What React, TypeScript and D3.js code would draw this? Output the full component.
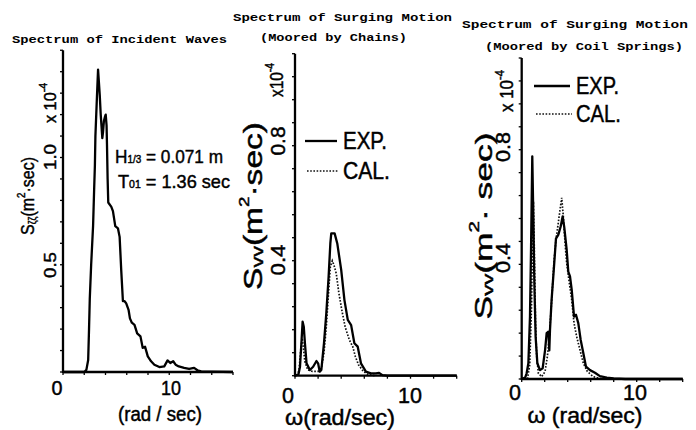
import React from "react";
import * as d3 from "d3";

// ---- data: spectra read as [omega (rad/sec), S (x10^-4)] ----
const incidentExp: [number, number][] = [
  [0, 0], [2.0, 0], [2.2, 0.01], [2.37, 0.056], [2.45, 0.2], [2.52, 0.34], [2.65, 0.5],
  [2.83, 0.68], [2.93, 0.85], [3.0, 0.96], [3.05, 1.1], [3.2, 1.29], [3.3, 1.41],
  [3.38, 1.35], [3.46, 1.29], [3.55, 1.2], [3.62, 1.15], [3.7, 1.09], [3.77, 1.12],
  [3.85, 1.17], [3.95, 1.19], [4.02, 1.2], [4.1, 1.15], [4.14, 1.06], [4.2, 0.9],
  [4.26, 0.79], [4.55, 0.77], [4.7, 0.75], [4.92, 0.68], [5.17, 0.67], [5.33, 0.63],
  [5.48, 0.475], [5.64, 0.33], [5.8, 0.33], [5.95, 0.32], [6.17, 0.29], [6.3, 0.25],
  [6.48, 0.23], [6.73, 0.22], [6.98, 0.18], [7.29, 0.166], [7.5, 0.113], [7.72, 0.118],
  [7.98, 0.073], [8.29, 0.05], [8.6, 0.034], [9.07, 0.023], [9.53, 0.026], [9.84, 0.054],
  [10.1, 0.042], [10.37, 0.05], [10.6, 0.034], [10.9, 0.026], [11.4, 0.019], [11.87, 0.014],
  [12.34, 0.019], [12.65, 0.008], [13, 0.003], [14, 0.002], [16, 0],
];

const chainsExp: [number, number][] = [
  [0, 0], [0.3, 0.005], [0.43, 0.03], [0.57, 0.124], [0.66, 0.188], [0.76, 0.17],
  [0.86, 0.113], [1.0, 0.043], [1.29, 0.02], [1.57, 0.031], [1.86, 0.051], [2.0, 0.043],
  [2.14, 0.014], [2.28, 0.02], [2.51, 0.113], [2.71, 0.217], [2.91, 0.344], [3.06, 0.46],
  [3.14, 0.495], [3.43, 0.495], [3.66, 0.46], [4.0, 0.368], [4.28, 0.263], [4.57, 0.194],
  [4.86, 0.176], [5.14, 0.113], [5.43, 0.101], [5.71, 0.043], [6.14, 0.014], [6.57, 0.008],
  [7.0, 0.008], [7.28, 0.01], [7.57, 0.002], [8, 0], [14, 0],
];

const chainsCal: [number, number][] = [
  [0.2, 0], [0.35, 0.02], [0.5, 0.09], [0.62, 0.13], [0.72, 0.1], [0.85, 0.05], [1.1, 0.02],
  [1.5, 0.015], [2.0, 0.015], [2.3, 0.03], [2.51, 0.08], [2.71, 0.17], [2.86, 0.263],
  [3.06, 0.379], [3.23, 0.4], [3.37, 0.385], [3.57, 0.356], [3.8, 0.287], [4.05, 0.229],
  [4.34, 0.17], [4.71, 0.124], [5.0, 0.101], [5.23, 0.066], [5.51, 0.037], [5.94, 0.014],
  [6.4, 0.003], [7, 0],
];

const springsExp: [number, number][] = [
  [0, 0], [0.3, 0.005], [0.43, 0.02], [0.58, 0.055], [0.72, 0.218], [0.81, 0.45],
  [0.92, 0.777], [1.01, 0.567], [1.1, 0.335], [1.21, 0.148], [1.36, 0.055], [1.59, 0.031],
  [1.82, 0.037], [2.03, 0.1], [2.17, 0.16], [2.32, 0.165], [2.4, 0.1], [2.46, 0.171],
  [2.6, 0.276], [2.81, 0.393], [2.98, 0.49], [3.18, 0.503], [3.39, 0.532], [3.56, 0.567],
  [3.7, 0.53], [3.91, 0.451], [4.05, 0.375], [4.2, 0.358], [4.35, 0.311], [4.55, 0.218],
  [4.72, 0.224], [4.92, 0.195], [5.13, 0.136], [5.36, 0.09], [5.59, 0.043], [5.94, 0.031],
  [6.37, 0.022], [6.8, 0.01], [7.4, 0.005], [8, 0.002], [9, 0], [14, 0],
];

const springsCal: [number, number][] = [
  [0.5, 0], [0.7, 0.05], [0.85, 0.25], [0.95, 0.5], [1.02, 0.62], [1.1, 0.45], [1.2, 0.2],
  [1.3, 0.08], [1.45, 0.02], [1.74, 0.008], [2.03, 0.026], [2.23, 0.078], [2.4, 0.148],
  [2.6, 0.27], [2.81, 0.41], [2.98, 0.486], [3.18, 0.544], [3.33, 0.59], [3.48, 0.632],
  [3.62, 0.567], [3.77, 0.474], [3.91, 0.405], [4.14, 0.335], [4.35, 0.276], [4.55, 0.195],
  [4.78, 0.148], [5.07, 0.101], [5.36, 0.055], [5.71, 0.026], [6.23, 0.008], [7, 0],
];

const xTickLabels = ["0", "10"];
const yTickLabelsIncident = ["0.5", "1.0"];
const yTickLabelsSurge = ["0.4", "0.8"];
const legendLabels = ["EXP.", "CAL."];

const SANS = "'Liberation Sans', Arial, sans-serif";
const MONO = "'Liberation Mono', 'DejaVu Sans Mono', monospace";
// a hairline outline gives the lettering a slightly heavier weight
const INK = { stroke: "#000", strokeWidth: 0.45 };

type Pt = [number, number];

interface PanelProps {
  px0: number; px1: number; xMax: number; xStep: number;
  pyBase: number; pyTop: number; yMax: number; yStep: number;
  exp: Pt[]; cal?: Pt[];
}

function Frame({ px0, px1, xMax, xStep, pyBase, pyTop, yMax, yStep, exp, cal }: PanelProps) {
  const x = d3.scaleLinear().domain([0, xMax]).range([px0, px1]);
  const y = d3.scaleLinear().domain([0, yMax]).range([pyBase, pyTop]);
  const line = d3.line<Pt>().x((d) => x(d[0])).y((d) => y(d[1])).curve(d3.curveLinear);
  const xt = d3.range(0, xMax + 1e-6, xStep);
  const yt = d3.range(0, Math.round(yMax / yStep) + 1).map((i) => i * yStep);
  return (
    <g>
      {cal && (
        <path d={line(cal) || ""} fill="none" stroke="#111" strokeWidth={1.7}
          strokeDasharray="1.6 1.6" />
      )}
      <path d={line(exp) || ""} fill="none" stroke="#000" strokeWidth={2.3}
        strokeLinejoin="round" />
      <line x1={x(0)} x2={x(0)} y1={y(0) + 1} y2={y(yMax)} stroke="#000" strokeWidth={2.3} />
      <line x1={x(0)} x2={x(xMax)} y1={y(0)} y2={y(0)} stroke="#000" strokeWidth={2.3} />
      {yt.map((v, i) => (
        <line key={"y" + i} x1={x(0) - 3} x2={x(0)} y1={y(v)} y2={y(v)} stroke="#000" strokeWidth={1.3} />
      ))}
      {xt.map((v, i) => (
        <line key={"x" + i} x1={x(v)} x2={x(v)} y1={y(0)} y2={y(0) + 3} stroke="#000" strokeWidth={1.3} />
      ))}
    </g>
  );
}

function VText({ x, y, len, size, children }: any) {
  return (
    <text transform={`translate(${x},${y}) rotate(-90)`} textAnchor="middle"
      dominantBaseline="central" fontFamily={SANS} fontSize={size}
      textLength={len} lengthAdjust="spacingAndGlyphs" {...INK}>
      {children}
    </text>
  );
}

function HText({ x, y, len, size, children, anchor }: any) {
  return (
    <text x={x} y={y} textAnchor={anchor || "middle"} fontFamily={SANS} fontSize={size}
      textLength={len} lengthAdjust="spacingAndGlyphs" {...INK}>
      {children}
    </text>
  );
}

function Title({ x, y, len, children }: any) {
  return (
    <text x={x} y={y} fontFamily={MONO} fontWeight={700} fontSize={10}
      textLength={len} lengthAdjust="spacingAndGlyphs">
      {children}
    </text>
  );
}

function Legend({ x0, x1, yExp, yCal, tx, lens }: any) {
  return (
    <g>
      <line x1={x0} x2={x1} y1={yExp} y2={yExp} stroke="#000" strokeWidth={2.3} />
      <line x1={x0 + 2} x2={x1 + 2} y1={yCal} y2={yCal} stroke="#111" strokeWidth={1.7}
        strokeDasharray="1.6 1.6" />
      <HText x={tx} y={yExp + 8} len={lens[0]} size={23} anchor="start">{legendLabels[0]}</HText>
      <HText x={tx} y={yCal + 8} len={lens[1]} size={23} anchor="start">{legendLabels[1]}</HText>
    </g>
  );
}

export default function App() {
  return (
    <svg width={696} height={430} viewBox="0 0 696 430"
      style={{ position: "absolute", left: 0, top: 0, background: "#fff" }}>
      <rect width={696} height={430} fill="#fff" />

      {/* Incident waves */}
      <Title x={12} y={42.5} len={215}>Spectrum of Incident Waves</Title>
      <Frame px0={63} px1={233} xMax={16} xStep={2} pyBase={372} pyTop={50.25} yMax={1.5}
        yStep={0.1} exp={incidentExp} />
      <HText x={57} y={395} size={21} len={11}>{xTickLabels[0]}</HText>
      <HText x={171} y={395} size={21} len={20}>{xTickLabels[1]}</HText>
      <HText x={160} y={421} size={20} len={84}>(rad / sec)</HText>
      <VText x={50} y={265} size={17} len={26}>{yTickLabelsIncident[0]}</VText>
      <VText x={50} y={157} size={17} len={26}>{yTickLabelsIncident[1]}</VText>
      <VText x={50} y={103} size={17} len={40}>
        x 10<tspan fontSize={11} dy={-7}>-4</tspan>
      </VText>
      <VText x={28} y={196} size={18} len={78}>
        S<tspan fontSize={10} dy={4}>ζζ</tspan><tspan dy={-4}>(m</tspan>
        <tspan fontSize={11} dy={-7}>2</tspan><tspan dy={7}>·sec)</tspan>
      </VText>
      <text x={115} y={163} fontFamily={SANS} fontSize={19} textLength={108}
        lengthAdjust="spacingAndGlyphs" {...INK}>
        H<tspan fontSize={11}>1/3</tspan> = 0.071 m
      </text>
      <text x={118} y={188} fontFamily={SANS} fontSize={19} textLength={112}
        lengthAdjust="spacingAndGlyphs" {...INK}>
        T<tspan fontSize={11}>01</tspan> = 1.36  sec
      </text>

      {/* Surging, chains */}
      <Title x={233} y={20.5} len={219}>Spectrum of Surging Motion</Title>
      <Title x={260} y={41} len={147}>(Moored by Chains)</Title>
      <Frame px0={295} px1={456.7} xMax={14} xStep={2} pyBase={375.7} pyTop={53.7} yMax={1.12}
        yStep={0.08} exp={chainsExp} cal={chainsCal} />
      <HText x={288} y={403} size={22} len={12}>{xTickLabels[0]}</HText>
      <HText x={410} y={403} size={22} len={24}>{xTickLabels[1]}</HText>
      <HText x={340} y={425} size={22} len={110}>ω(rad/sec)</HText>
      <VText x={277} y={260} size={21} len={31}>{yTickLabelsSurge[0]}</VText>
      <VText x={277} y={141} size={21} len={29}>{yTickLabelsSurge[1]}</VText>
      <VText x={277} y={80} size={18} len={34}>
        x10<tspan fontSize={12} dy={-7}>-4</tspan>
      </VText>
      <VText x={253} y={206} size={25} len={168}>
        S<tspan fontSize={16} dy={4}>vv</tspan><tspan dy={-4}>(m</tspan>
        <tspan fontSize={14} dy={-9}>2</tspan><tspan dy={9}>·sec)</tspan>
      </VText>
      <Legend x0={305} x1={337} yExp={141} yCal={171} tx={343} lens={[44, 47]} />

      {/* Surging, coil springs */}
      <Title x={462} y={28} len={226}>Spectrum of Surging Motion</Title>
      <Title x={485} y={50} len={198}>(Moored by Coil Springs)</Title>
      <Frame px0={521.7} px1={682.7} xMax={14} xStep={2} pyBase={379} pyTop={58} yMax={1.12}
        yStep={0.08} exp={springsExp} cal={springsCal} />
      <HText x={515} y={400} size={22} len={12}>{xTickLabels[0]}</HText>
      <HText x={635} y={400} size={22} len={24}>{xTickLabels[1]}</HText>
      <HText x={585} y={423} size={22} len={115}>ω (rad/sec)</HText>
      <VText x={502} y={258} size={21} len={30}>{yTickLabelsSurge[0]}</VText>
      <VText x={502} y={147} size={21} len={30}>{yTickLabelsSurge[1]}</VText>
      <VText x={507} y={91} size={18} len={42}>
        x 10<tspan fontSize={12} dy={-7}>-4</tspan>
      </VText>
      <VText x={483} y={226} size={24} len={187}>
        S<tspan fontSize={15} dy={4}>vv</tspan><tspan dy={-4}>(m</tspan>
        <tspan fontSize={14} dy={-9}>2</tspan><tspan dy={9}>· sec)</tspan>
      </VText>
      <Legend x0={534} x1={570} yExp={86} yCal={114} tx={576} lens={[43, 45]} />
    </svg>
  );
}
